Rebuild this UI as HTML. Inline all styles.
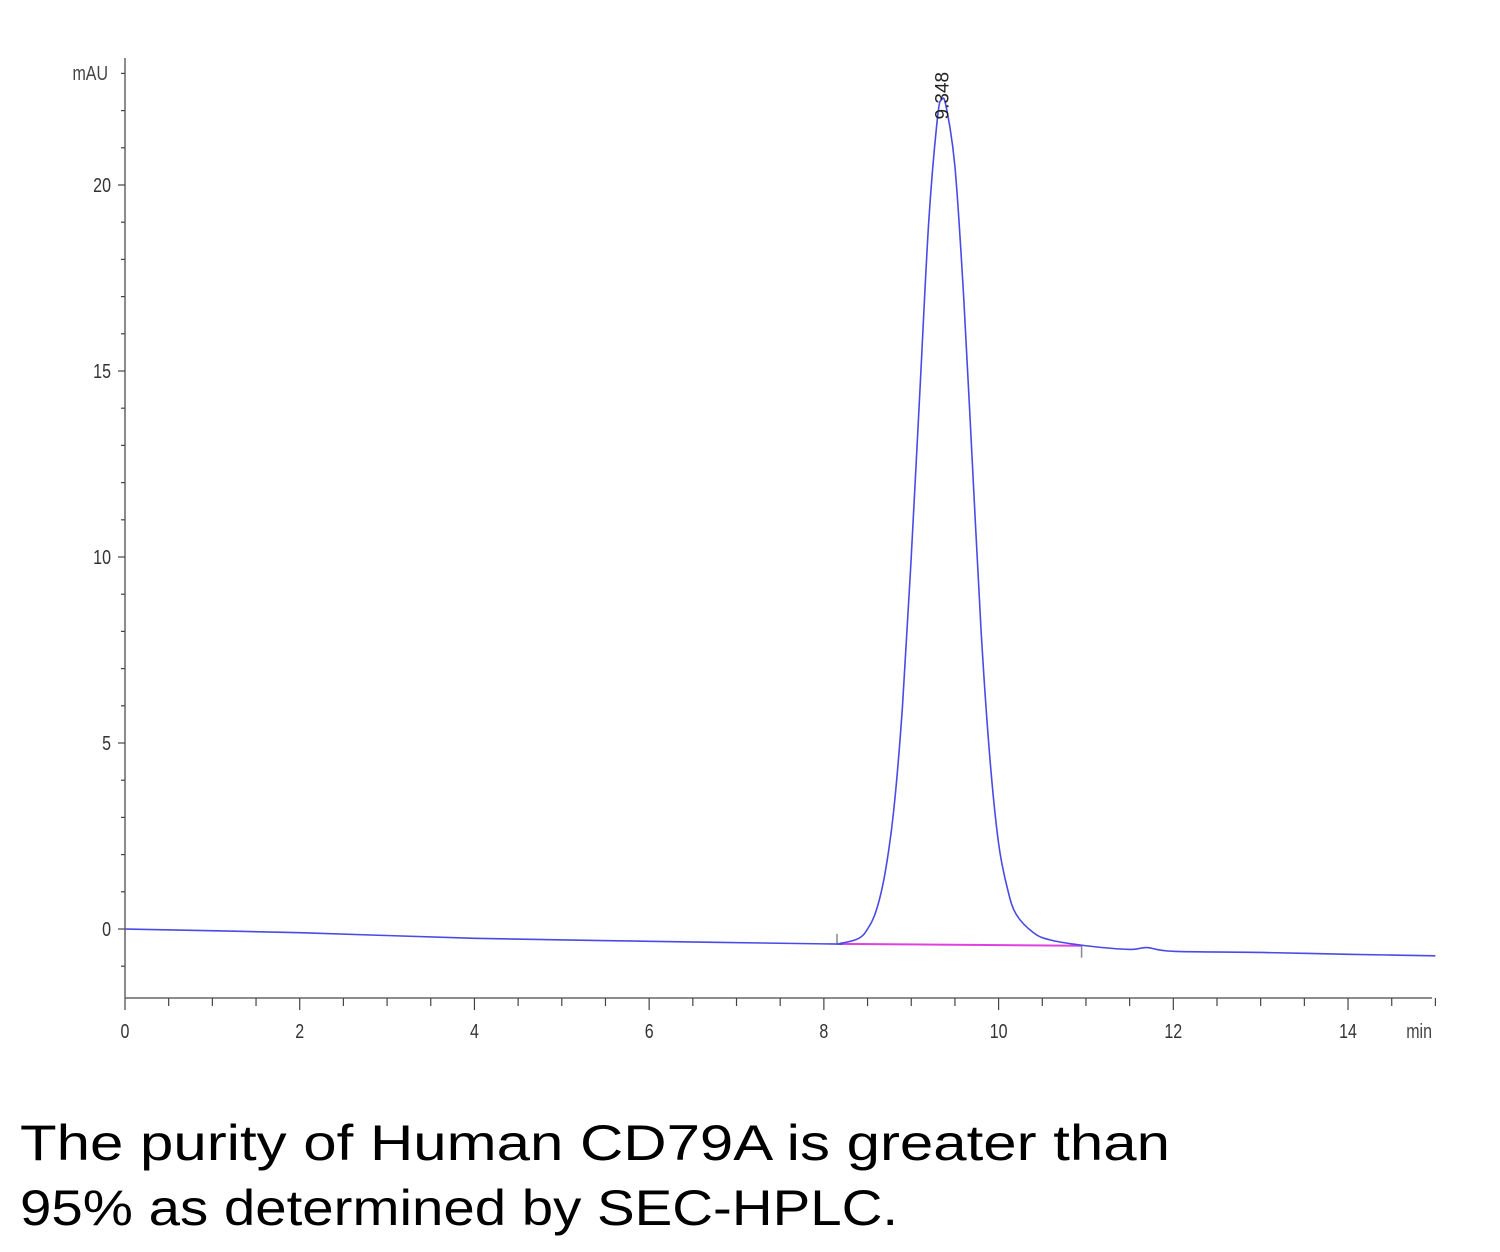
<!DOCTYPE html>
<html><head><meta charset="utf-8"><style>
html,body{margin:0;padding:0;background:#fff;}
svg{display:block;}
</style></head><body>
<svg id="chart" width="1500" height="1252" viewBox="0 0 1500 1252" xmlns="http://www.w3.org/2000/svg" font-family="Liberation Sans, sans-serif">
<g id="axes"></g>
<g id="series"></g>
<text x="20" y="1160" font-size="50" fill="#000" textLength="1150" lengthAdjust="spacingAndGlyphs">The purity of Human CD79A is greater than</text>
<text x="20" y="1225" font-size="50" fill="#000" textLength="878" lengthAdjust="spacingAndGlyphs">95% as determined by SEC-HPLC.</text>
</svg>
<script>
const times = [0,2,4,6,8,8.2,8.4,8.5,8.6,8.7,8.8,8.9,9.0,9.1,9.2,9.3,9.35,9.4,9.5,9.6,9.7,9.8,9.9,10.0,10.1,10.2,10.4,10.6,11,11.5,11.7,12,13,14,15];
const signal = [0,-0.1,-0.25,-0.33,-0.4,-0.38,-0.25,0,0.5,1.5,3.2,6,10,14.5,19,21.8,22.3,22.1,20.5,17,12.5,8,4.6,2.3,1.1,0.4,-0.1,-0.3,-0.45,-0.55,-0.5,-0.6,-0.63,-0.68,-0.72];
const xTickLabels = [0,2,4,6,8,10,12,14];
const yTickLabels = [0,5,10,15,20];
const peakTime = 9.348;
const peakLabel = "9.348";
const integStart = [8.15,-0.4];
const integEnd = [10.95,-0.45];

const NS="http://www.w3.org/2000/svg";
const X0=125, PXM=87.36, Y0=929, PXU=37.2;
const xs=t=>X0+t*PXM, ys=v=>Y0-v*PXU;
function mk(tag,attrs,parent,text){const e=document.createElementNS(NS,tag);for(const k in attrs)e.setAttribute(k,attrs[k]);if(text!==undefined)e.textContent=text;parent.appendChild(e);return e;}
const axes=document.getElementById('axes'), series=document.getElementById('series');

let e=mk('line',{x1:X0,y1:58,x2:X0,y2:998,stroke:'#666','stroke-width':1.5},axes);


e=mk('line',{x1:X0,y1:998,x2:1432,y2:998,stroke:'#666','stroke-width':1.5},axes);


for(let v=-1;v<=23;v++){
  const major=v%5===0;
  e=mk('line',{x1:X0-(major?7:4),y1:ys(v),x2:X0,y2:ys(v),stroke:'#444','stroke-width':1.2},axes);
  
  
}
yTickLabels.forEach(v=>{
  e=mk('text',{x:X0-14,y:ys(v)+7,'font-size':20,fill:'#333','text-anchor':'end',transform:`translate(${X0-14},0) scale(0.8,1) translate(${-(X0-14)},0)`},axes,String(v));
  
  
});
e=mk('text',{x:108,y:80,'font-size':20,fill:'#444','text-anchor':'end',transform:'translate(108,0) scale(0.8,1) translate(-108,0)'},axes,'mAU');


for(let t=0;t<=15;t+=0.5){
  const major=t%2===0;
  e=mk('line',{x1:xs(t),y1:998,x2:xs(t),y2:998+(major?12:8),stroke:'#444','stroke-width':1.2},axes);
  
  
}
xTickLabels.forEach(t=>{
  e=mk('text',{x:xs(t),y:1038,'font-size':20,fill:'#333','text-anchor':'middle',transform:`translate(${xs(t)},0) scale(0.8,1) translate(${-xs(t)},0)`},axes,String(t));
  
  
});
e=mk('text',{x:1432,y:1038,'font-size':20,fill:'#444','text-anchor':'end',transform:'translate(1432,0) scale(0.8,1) translate(-1432,0)'},axes,'min');



e=mk('line',{x1:xs(integStart[0]),y1:ys(integStart[1]),x2:xs(integEnd[0]),y2:ys(integEnd[1]),stroke:'#e040e0','stroke-width':2},series);


e=mk('line',{x1:xs(integStart[0]),y1:ys(integStart[1])-10,x2:xs(integStart[0]),y2:ys(integStart[1]),stroke:'#888','stroke-width':1.5},series);


e=mk('line',{x1:xs(integEnd[0]),y1:ys(integEnd[1]),x2:xs(integEnd[0]),y2:ys(integEnd[1])+12,stroke:'#888','stroke-width':1.5},series);



// smooth path (Catmull-Rom)
const P=times.map((t,i)=>[xs(t),ys(signal[i])]);
let d=`M${P[0][0]},${P[0][1]}`;
for(let i=0;i<P.length-1;i++){
  const p0=P[Math.max(0,i-1)],p1=P[i],p2=P[i+1],p3=P[Math.min(P.length-1,i+2)];
  d+=` C${p1[0]+(p2[0]-p0[0])/6},${p1[1]+(p2[1]-p0[1])/6} ${p2[0]-(p3[0]-p1[0])/6},${p2[1]-(p3[1]-p1[1])/6} ${p2[0]},${p2[1]}`;
}
e=mk('path',{d:d,fill:'none',stroke:'#4a4ae6','stroke-width':1.6},series);



const px=xs(peakTime)+7, py=ys(Math.max(...signal))+20;
e=mk('text',{x:px,y:py,'font-size':19,fill:'#222',transform:`rotate(-90 ${px} ${py})`},series,peakLabel);


</script>
</body></html>
